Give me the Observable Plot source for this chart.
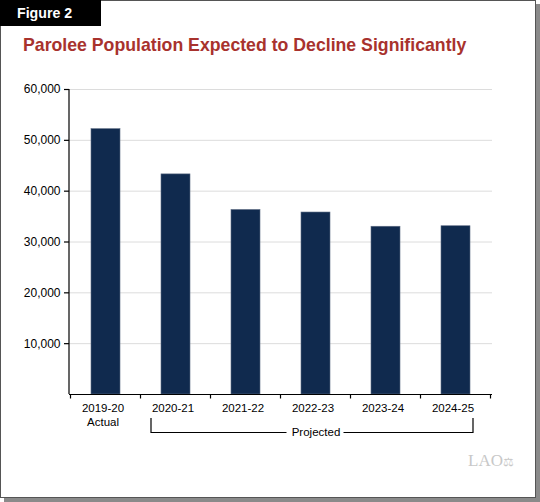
<!DOCTYPE html>
<html>
<head>
<meta charset="utf-8">
<script src="https://cdn.jsdelivr.net/npm/d3@7"></script>
<script src="https://cdn.jsdelivr.net/npm/@observablehq/plot@0.6"></script>
<style>
  html, body { margin: 0; padding: 0; background: #fff; }
  body { width: 540px; height: 502px; position: relative; overflow: hidden; font-family: "Liberation Sans", Arial, Helvetica, sans-serif; }
  #frame { position: absolute; left: 0; top: 0; width: 534px; height: 496px; border: 1px solid #555; box-shadow: 4px 4px 0 #8a8a8a; background: #fff; }
  #figlabel { position: absolute; left: 0; top: 0; width: 101px; height: 26px; background: #000; color: #fff; font-weight: bold; font-size: 14.2px; line-height: 26px; box-sizing: border-box; padding-left: 17px; }
  #title { position: absolute; left: 23px; top: 35px; color: #a8322d; font-weight: bold; font-size: 17.7px; white-space: nowrap; }
  #chart { position: absolute; left: 0; top: 0; }
  #logo { position: absolute; left: 468px; top: 451px; color: #c8c8c8; font-family: "Liberation Serif", "DejaVu Serif", serif; font-size: 17px; letter-spacing: 0px; }
</style>
</head>
<body>
<div id="frame"></div>
<div id="chart"></div>
<div id="figlabel">Figure 2</div>
<div id="title">Parolee Population Expected to Decline Significantly</div>
<div id="logo">LAO<span style="font-size:12px">&#x2696;</span></div>
<script>
const years = ["2019-20", "2020-21", "2021-22", "2022-23", "2023-24", "2024-25"];
const parolees = [52200, 43300, 36300, 35800, 33000, 33100];
const yTicks = [10000, 20000, 30000, 40000, 50000, 60000];
const actualLabel = "Actual";
const projectedLabel = "Projected";

const data = years.map((year, i) => ({year, value: parolees[i]}));

function annotations(index, scales, values, dimensions) {
  const sx = scales.x, sy = scales.y;
  const bw = typeof sx.bandwidth === "function" ? sx.bandwidth() : sx.bandwidth;
  const step = typeof sx.step === "function" ? sx.step() : (sx(years[1]) - sx(years[0]));
  const center = d => sx(d) + bw / 2;
  const y0 = sy(0);
  const g = d3.create("svg:g").attr("fill", "none").attr("stroke", "#000").attr("stroke-width", 1.2);
  // y axis line
  g.append("line").attr("x1", dimensions.marginLeft).attr("x2", dimensions.marginLeft)
    .attr("y1", sy(60000)).attr("y2", y0);
  // x tick marks at band boundaries
  const bounds = years.map(d => center(d) - step / 2).concat([center(years[years.length - 1]) + step / 2]);
  for (const b of bounds) {
    g.append("line").attr("x1", b).attr("x2", b).attr("y1", y0).attr("y2", y0 + 4.5);
  }
  // bracket under projected years
  const left = center(years[1]) - 24.5;
  const right = center(years[years.length - 1]) + 17.5;
  const mid = center(years[3]);
  const top = y0 + 24, bot = y0 + 38.5;
  g.append("path").attr("d", `M${left},${top}V${bot}H${mid - 29}`);
  g.append("path").attr("d", `M${mid + 28},${bot}H${right}V${top}`);
  return g.node();
}

const chart = Plot.plot({
  width: 536,
  height: 450,
  marginLeft: 69,
  marginRight: 44,
  marginTop: 89,
  marginBottom: 56,
  style: {fontFamily: "'Liberation Sans', Arial, Helvetica, sans-serif", color: "#000", background: "transparent", overflow: "visible"},
  x: {domain: years, paddingInner: 0.59, paddingOuter: 0.295, axis: null},
  y: {domain: [0, 60000], axis: null},
  marks: [
    Plot.gridY(yTicks, {stroke: "#dcdcdc", strokeOpacity: 1, strokeWidth: 1}),
    Plot.barY(data, {x: "year", y: "value", fill: "#102a4e", stroke: "#5d6c84", strokeWidth: 0.6}),
    Plot.ruleY([0], {stroke: "#000", strokeWidth: 1.2}),
    Plot.axisY(yTicks, {tickFormat: d3.format(","), tickSize: 5, tickPadding: 4, fontSize: 12, stroke: "#000", strokeWidth: 1.2, label: null}),
    Plot.text(years, {x: d => d, y: 0, dy: 17.5, dx: -3, lineAnchor: "bottom", fontSize: 11.5, fill: "#000"}),
    Plot.text([actualLabel], {x: () => years[0], y: 0, dy: 31.5, dx: -3, lineAnchor: "bottom", fontSize: 11.5, fill: "#000"}),
    Plot.text([projectedLabel], {x: () => years[3], y: 0, dy: 41.5, lineAnchor: "bottom", fontSize: 11.5, fill: "#000"}),
    annotations
  ]
});
document.getElementById("chart").appendChild(chart);
</script>
</body>
</html>
